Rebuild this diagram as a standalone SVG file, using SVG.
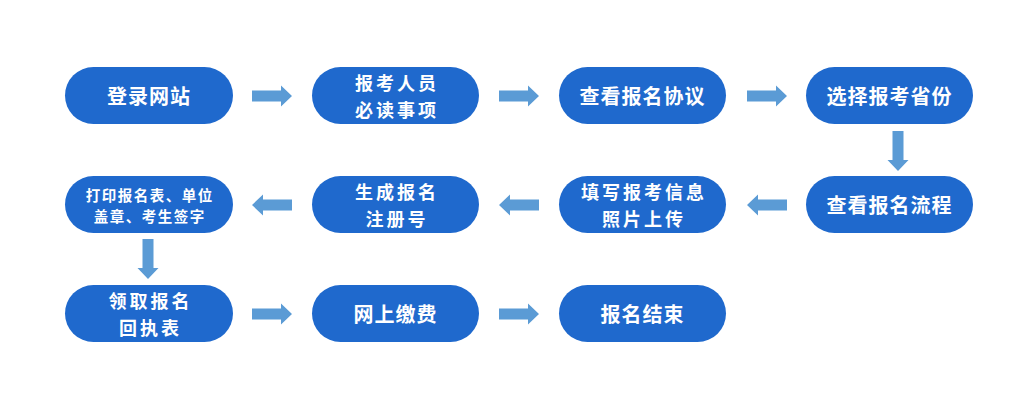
<svg xmlns="http://www.w3.org/2000/svg" width="1030" height="400" viewBox="0 0 1030 400">
<style>
.pill{fill:#1F69CD;}
.t{fill:#fff;font-family:"Noto Sans CJK SC","Noto Sans CJK TC",sans-serif;font-weight:bold;font-size:20px;text-anchor:middle;dominant-baseline:central;letter-spacing:1px;}
.d{font-size:18px;letter-spacing:3px;}
.s{font-size:14.5px;letter-spacing:1.5px;}
.arr{fill:#5B9BD5;}
</style>
<defs>
<path id="ar" d="M0,-5.5 H29 V-10.5 L40,0 L29,10.5 V5.5 H0 Z"/>
</defs>
<rect width="1030" height="400" fill="#fff"/>
<g id="n1"><rect class="pill" x="65" y="67" width="168" height="57" rx="28.5"/><text class="t" x="149" y="95.5">登录网站</text></g>
<g id="n2"><rect class="pill" x="312" y="67" width="167" height="57" rx="28.5"/><text class="t d" x="397" y="82.4">报考人员</text><text class="t d" x="397" y="108.6">必读事项</text></g>
<g id="n3"><rect class="pill" x="559" y="67" width="167" height="57" rx="28.5"/><text class="t" x="642.5" y="95.5">查看报名协议</text></g>
<g id="n4"><rect class="pill" x="806" y="67" width="167" height="57" rx="28.5"/><text class="t" x="889.5" y="95.5">选择报考省份</text></g>
<g id="n5"><rect class="pill" x="806" y="176" width="167" height="57" rx="28.5"/><text class="t" x="889.5" y="204.5">查看报名流程</text></g>
<g id="n6"><rect class="pill" x="559" y="176" width="167" height="57" rx="28.5"/><text class="t d" x="644" y="191.4">填写报考信息</text><text class="t d" x="644" y="217.6">照片上传</text></g>
<g id="n7"><rect class="pill" x="312" y="176" width="167" height="57" rx="28.5"/><text class="t d" x="397" y="191.4">生成报名</text><text class="t d" x="397" y="217.6">注册号</text></g>
<g id="n8"><rect class="pill" x="65" y="176" width="168" height="57" rx="28.5"/><text class="t s" x="149.7" y="194">打印报名表、单位</text><text class="t s" x="149.7" y="215.2">盖章、考生签字</text></g>
<g id="n9"><rect class="pill" x="65" y="285" width="168" height="57" rx="28.5"/><text class="t d" x="150.5" y="300.4">领取报名</text><text class="t d" x="150.5" y="326.6">回执表</text></g>
<g id="n10"><rect class="pill" x="312" y="285" width="167" height="57" rx="28.5"/><text class="t" x="395.5" y="313.5">网上缴费</text></g>
<g id="n11"><rect class="pill" x="559" y="285" width="167" height="57" rx="28.5"/><text class="t" x="642.5" y="313.5">报名结束</text></g>
<g id="connectors" class="arr">
<use href="#ar" transform="translate(252,96)"/>
<use href="#ar" transform="translate(499,96)"/>
<use href="#ar" transform="translate(747,96)"/>
<use href="#ar" transform="translate(898,131) rotate(90)"/>
<use href="#ar" transform="translate(787,205) rotate(180)"/>
<use href="#ar" transform="translate(539,205) rotate(180)"/>
<use href="#ar" transform="translate(292,205) rotate(180)"/>
<use href="#ar" transform="translate(148,239) rotate(90)"/>
<use href="#ar" transform="translate(252,314)"/>
<use href="#ar" transform="translate(499,314)"/>
</g>
</svg>
